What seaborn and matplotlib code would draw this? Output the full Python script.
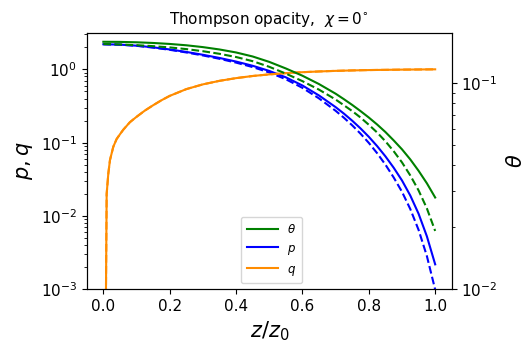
import numpy as np
import pandas as pd
import matplotlib
matplotlib.use("Agg")
import matplotlib.pyplot as plt
from matplotlib.lines import Line2D
import seaborn as sns

# ---- data ----
z_grid = [0.0, 0.05, 0.1, 0.15, 0.2, 0.25, 0.3, 0.35, 0.4, 0.45, 0.5, 0.55, 0.6,
          0.65, 0.7, 0.725, 0.75, 0.775, 0.8, 0.825, 0.85, 0.875, 0.9, 0.925,
          0.95, 0.975, 1.0]

p_solid = [2.198, 2.173, 2.101, 1.995, 1.867, 1.727, 1.579, 1.429, 1.276, 1.118,
           0.9512, 0.7777, 0.6018, 0.4397, 0.3051, 0.2487, 0.1992, 0.1565, 0.1202,
           0.0898, 0.0651, 0.0455, 0.0305, 0.0190, 0.01073, 0.00528, 0.00219]
p_dashed = [2.198, 2.168, 2.092, 1.979, 1.846, 1.699, 1.547, 1.392, 1.235, 1.073,
            0.906, 0.7324, 0.5590, 0.4011, 0.2720, 0.2186, 0.1723, 0.1326, 0.0993,
            0.0719, 0.0502, 0.0335, 0.02137, 0.01243, 0.00646, 0.00284, 0.00099]

theta_solid = [0.1590, 0.1588, 0.1581, 0.1569, 0.1552, 0.1529, 0.1498, 0.1459,
               0.1411, 0.1349, 0.1270, 0.1180, 0.1088, 0.0991, 0.0890, 0.0837,
               0.0785, 0.0733, 0.0682, 0.0631, 0.0580, 0.0528, 0.0478, 0.0427,
               0.0376, 0.0327, 0.0279]
theta_dashed = [0.1550, 0.1543, 0.1531, 0.1514, 0.1493, 0.1465, 0.1431, 0.1390,
                0.1341, 0.1280, 0.1202, 0.1114, 0.1024, 0.0931, 0.0834, 0.0782,
                0.0733, 0.0682, 0.0629, 0.0577, 0.0523, 0.0468, 0.0413, 0.0357,
                0.0302, 0.0247, 0.0192]

z_q = [0.0, 0.01, 0.015, 0.02, 0.03, 0.04, 0.05, 0.06, 0.08, 0.1, 0.125, 0.15,
       0.175, 0.2, 0.25, 0.3, 0.35, 0.4, 0.45, 0.5, 0.55, 0.6, 0.65, 0.7, 0.75,
       0.8, 0.85, 0.9, 0.95, 1.0]
q_solid = [1e-8, 0.020, 0.038, 0.058, 0.088, 0.112, 0.130, 0.150, 0.190, 0.225,
           0.2735, 0.3236, 0.3784, 0.4345, 0.5370, 0.6237, 0.6966, 0.7586, 0.8110,
           0.8531, 0.8872, 0.9141, 0.9354, 0.9528, 0.9661, 0.9772, 0.9840, 0.9908,
           0.9954, 1.0]
q_dashed = list(q_solid)

title = r"Thompson opacity,  $\chi = 0^{\circ}$"
xlabel = r"$z/z_0$"
ylabel_left = r"$p, q$"
ylabel_right = r"$\theta$"
legend_labels = [r"$\theta$", r"$p$", r"$q$"]

GREEN = "green"
BLUE = "blue"
ORANGE = "darkorange"

fig = plt.figure(figsize=(5.29, 3.5), dpi=100)
ax = fig.add_axes([0.164, 0.1734, 0.69, 0.7332])
ax2 = ax.twinx()

ax.set_yscale("log")
ax2.set_yscale("log")

df_p = pd.DataFrame({"z": z_grid, "ps": p_solid, "pd": p_dashed,
                     "ts": theta_solid, "td": theta_dashed})
df_q = pd.DataFrame({"z": z_q, "qs": q_solid, "qd": q_dashed})

lw = 1.5
sns.lineplot(data=df_p, x="z", y="ps", ax=ax, color=BLUE, lw=lw, estimator=None)
sns.lineplot(data=df_p, x="z", y="pd", ax=ax, color=BLUE, lw=lw, ls="--", estimator=None)
sns.lineplot(data=df_q, x="z", y="qs", ax=ax, color=ORANGE, lw=lw, estimator=None)
sns.lineplot(data=df_q, x="z", y="qd", ax=ax, color=ORANGE, lw=lw, ls="--", estimator=None)
sns.lineplot(data=df_p, x="z", y="ts", ax=ax2, color=GREEN, lw=lw, estimator=None)
sns.lineplot(data=df_p, x="z", y="td", ax=ax2, color=GREEN, lw=lw, ls="--", estimator=None)

ax.set_xlim(-0.05, 1.05)
ax.set_ylim(1e-3, 3.16)
ax2.set_ylim(1e-2, 0.176)

ax.set_xticks([0.0, 0.2, 0.4, 0.6, 0.8, 1.0])
ax.set_xticklabels(["0.0", "0.2", "0.4", "0.6", "0.8", "1.0"])
ax.tick_params(axis="both", which="major", labelsize=11)
ax2.tick_params(axis="both", which="major", labelsize=11)

ax.set_xlabel(xlabel, fontsize=15)
ax.set_ylabel(ylabel_left, fontsize=15)
ax2.set_ylabel(ylabel_right, fontsize=15, labelpad=6)
ax.set_title(title, fontsize=11)

hl = [Line2D([], [], color=GREEN, lw=lw), Line2D([], [], color=BLUE, lw=lw),
      Line2D([], [], color=ORANGE, lw=lw)]
ax2.legend(hl, legend_labels, loc="lower center", bbox_to_anchor=(0.506, 0.0),
           fontsize=8.5, handlelength=2.6, borderpad=0.5)

fig.savefig("out.png", dpi=100)
